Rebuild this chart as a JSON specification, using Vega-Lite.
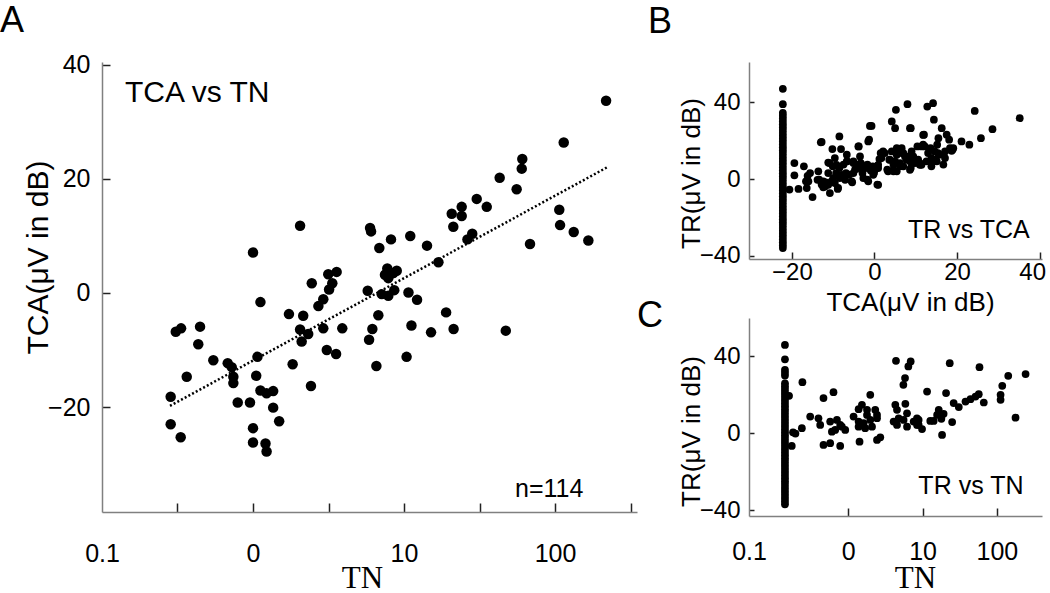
{
  "$schema": "https://vega.github.io/schema/vega-lite/v6.json",
  "padding": {"left": 0, "top": 2, "right": 0, "bottom": 0},
  "background": "white",
  "config": {
    "view": {"stroke": null},
    "axis": {"grid": false, "labelFont": "Liberation Sans", "titleFont": "Liberation Sans", "titleFontWeight": "normal", "labelColor": "black", "titleColor": "black", "domainColor": "#808080", "domainWidth": 1.5, "tickWidth": 1.5, "labelOverlap": false, "labelFlush": false},
    "title": {"font": "Liberation Sans", "fontWeight": "normal", "color": "black", "anchor": "start", "frame": "group", "baseline": "alphabetic"}
  },
  "datasets": {
    "a": [
      {"TN":1.00,"TCA":7.1},{"TN":2.05,"TCA":11.8},{"TN":2.45,"TCA":1.7},{"TN":3.58,"TCA":3.7},{"TN":3.15,"TCA":3.3},{"TN":3.35,"TCA":1.7},{"TN":3.19,"TCA":0.6},{"TN":1.12,"TCA":-1.6},{"TN":2.92,"TCA":-1.1},{"TN":2.71,"TCA":-2.3},{"TN":1.73,"TCA":-3.7},{"TN":2.15,"TCA":-4.0},{"TN":0.308,"TCA":-6.8},{"TN":0.334,"TCA":-6.2},{"TN":0.446,"TCA":-5.9},{"TN":2.05,"TCA":-6.4},{"TN":2.92,"TCA":-6.2},{"TN":3.90,"TCA":-6.2},{"TN":2.32,"TCA":-7.2},{"TN":2.10,"TCA":-8.5},{"TN":0.434,"TCA":-9.0},{"TN":3.08,"TCA":-10.0},{"TN":3.55,"TCA":-10.7},{"TN":0.546,"TCA":-11.8},{"TN":1.07,"TCA":-11.2},{"TN":0.680,"TCA":-12.3},{"TN":0.723,"TCA":-13.0},{"TN":1.83,"TCA":-12.5},{"TN":0.364,"TCA":-14.7},{"TN":0.741,"TCA":-14.7},{"TN":0.741,"TCA":-15.8},{"TN":1.05,"TCA":-14.5},{"TN":2.42,"TCA":-16.3},{"TN":1.12,"TCA":-17.1},{"TN":1.23,"TCA":-17.6},{"TN":1.36,"TCA":-17.2},{"TN":0.285,"TCA":-18.2},{"TN":0.792,"TCA":-19.2},{"TN":0.955,"TCA":-19.2},{"TN":1.36,"TCA":-20.1},{"TN":1.49,"TCA":-22.5},{"TN":0.285,"TCA":-23.0},{"TN":1.00,"TCA":-23.7},{"TN":0.332,"TCA":-25.3},{"TN":1.00,"TCA":-26.2},{"TN":1.21,"TCA":-26.4},{"TN":1.23,"TCA":-27.8},
      {"TN":217.8,"TCA":33.7},{"TN":114.2,"TCA":26.4},{"TN":60.7,"TCA":23.5},{"TN":60.2,"TCA":21.8},{"TN":43.0,"TCA":20.2},{"TN":55.7,"TCA":18.2},{"TN":30.3,"TCA":16.5},{"TN":35.3,"TCA":15.1},{"TN":24.1,"TCA":15.1},{"TN":20.7,"TCA":13.9},{"TN":24.1,"TCA":13.5},{"TN":21.2,"TCA":11.6},{"TN":106.7,"TCA":14.6},{"TN":108.0,"TCA":11.9},{"TN":133,"TCA":10.7},{"TN":166.2,"TCA":9.2},{"TN":68.3,"TCA":8.6},{"TN":28.3,"TCA":10.4},{"TN":26.3,"TCA":9.4},{"TN":5.96,"TCA":11.4},{"TN":6.05,"TCA":10.8},{"TN":8.20,"TCA":9.4},{"TN":11.0,"TCA":10.0},{"TN":6.86,"TCA":7.9},{"TN":14.2,"TCA":8.3},{"TN":16.9,"TCA":5.4},{"TN":7.75,"TCA":4.3},{"TN":8.95,"TCA":3.9},{"TN":7.48,"TCA":3.2},{"TN":7.87,"TCA":2.6},{"TN":8.50,"TCA":3.5},{"TN":5.75,"TCA":0.4},{"TN":7.12,"TCA":-0.2},{"TN":7.87,"TCA":-0.5},{"TN":8.62,"TCA":0.5},{"TN":10.7,"TCA":0.1},{"TN":12.2,"TCA":-1.2},{"TN":6.76,"TCA":-3.9},{"TN":19.0,"TCA":-3.4},{"TN":6.17,"TCA":-6.3},{"TN":5.87,"TCA":-8.2},{"TN":11.2,"TCA":-5.7},{"TN":15.1,"TCA":-6.9},{"TN":21.3,"TCA":-6.3},{"TN":47.2,"TCA":-6.6},{"TN":10.4,"TCA":-11.2},{"TN":6.56,"TCA":-12.8}
    ],
    "aline": [{"TN":0.282,"TCA":-19.8},{"TN":220,"TCA":22.0}],
    "b": [
      {"TCA":-22.2,"TR":47},{"TCA":-22.2,"TR":39},{"TCA":-22.2,"TR":34.5},{"TCA":-22.2,"TR":33},{"TCA":-22.2,"TR":31.5},{"TCA":-22.2,"TR":30},{"TCA":-22.2,"TR":28.5},{"TCA":-22.2,"TR":27},{"TCA":-22.2,"TR":25.5},{"TCA":-22.2,"TR":24},{"TCA":-22.2,"TR":22.5},{"TCA":-22.2,"TR":21},{"TCA":-22.2,"TR":19.5},{"TCA":-22.2,"TR":18},{"TCA":-22.2,"TR":16.5},{"TCA":-22.2,"TR":15},{"TCA":-22.2,"TR":13.5},{"TCA":-22.2,"TR":12},{"TCA":-22.2,"TR":10.5},{"TCA":-22.2,"TR":9},{"TCA":-22.2,"TR":7.5},{"TCA":-22.2,"TR":6},{"TCA":-22.2,"TR":4.5},{"TCA":-22.2,"TR":3},{"TCA":-22.2,"TR":1.5},{"TCA":-22.2,"TR":0},{"TCA":-22.2,"TR":-1.5},{"TCA":-22.2,"TR":-3},{"TCA":-22.2,"TR":-4.5},{"TCA":-22.2,"TR":-6},{"TCA":-22.2,"TR":-7.5},{"TCA":-22.2,"TR":-9},{"TCA":-22.2,"TR":-10.5},{"TCA":-22.2,"TR":-12},{"TCA":-22.2,"TR":-13.5},{"TCA":-22.2,"TR":-15},{"TCA":-22.2,"TR":-16.5},{"TCA":-22.2,"TR":-18},{"TCA":-22.2,"TR":-19.5},{"TCA":-22.2,"TR":-21},{"TCA":-22.2,"TR":-22.5},{"TCA":-22.2,"TR":-24},{"TCA":-22.2,"TR":-25.5},{"TCA":-22.2,"TR":-27},{"TCA":-22.2,"TR":-28.5},{"TCA":-22.2,"TR":-30},{"TCA":-22.2,"TR":-31.5},{"TCA":-22.2,"TR":-33},{"TCA":-22.2,"TR":-34.5},{"TCA":-22.2,"TR":-36},
      {"TCA":-19.4,"TR":8.3},{"TCA":-19.4,"TR":1.9},{"TCA":-20.6,"TR":-5.5},{"TCA":-18.4,"TR":-5.2},{"TCA":-17.1,"TR":6.6},{"TCA":-16.6,"TR":-1.2},{"TCA":-16.2,"TR":1.7},{"TCA":-15.6,"TR":3.1},{"TCA":-15.0,"TR":-9.4},{"TCA":-13.6,"TR":4.0},{"TCA":-13.4,"TR":-0.3},{"TCA":-13.0,"TR":19.1},{"TCA":-12.8,"TR":-2.9},{"TCA":-12.4,"TR":-4.3},{"TCA":-11.8,"TR":-1.7},{"TCA":-11.2,"TR":3.1},{"TCA":-10.9,"TR":8.3},{"TCA":-10.8,"TR":-7.3},{"TCA":-10.4,"TR":-1.2},{"TCA":-10.1,"TR":6.6},{"TCA":-9.3,"TR":3.1},{"TCA":-8.9,"TR":-5.2},{"TCA":-8.5,"TR":22.2},{"TCA":-8.1,"TR":15.6},{"TCA":-8.5,"TR":5.7},{"TCA":-8.4,"TR":0.5},{"TCA":-7.5,"TR":7.5},{"TCA":-6.9,"TR":3.1},{"TCA":-6.6,"TR":9.2},{"TCA":-6.1,"TR":2.3},{"TCA":-5.4,"TR":-1.7},{"TCA":-5.1,"TR":9.2},{"TCA":-4.7,"TR":4.9},{"TCA":-4.2,"TR":7.5},{"TCA":-3.8,"TR":17.0},{"TCA":-3.3,"TR":8.3},{"TCA":-2.9,"TR":3.1},{"TCA":-2.5,"TR":6.6},{"TCA":-2.1,"TR":5.7},{"TCA":-1.7,"TR":7.5},{"TCA":-1.7,"TR":-0.3},{"TCA":-1.5,"TR":19.6},{"TCA":-1.3,"TR":20.5},{"TCA":-1.1,"TR":27.7},{"TCA":-0.9,"TR":4.5},{"TCA":-0.4,"TR":6.6},{"TCA":-0.1,"TR":3.1},{"TCA":0.7,"TR":-2.9},{"TCA":0.9,"TR":5.7},{"TCA":1.2,"TR":10.4},{"TCA":1.5,"TR":13.5},{"TCA":2.1,"TR":14.4},{"TCA":3.1,"TR":4.9},{"TCA":3.6,"TR":10.1},{"TCA":4.2,"TR":30.0},{"TCA":4.6,"TR":4.0},{"TCA":5.0,"TR":26.5},{"TCA":5.2,"TR":36.1},{"TCA":5.4,"TR":12.7},{"TCA":5.8,"TR":15.3},{"TCA":6.2,"TR":6.6},{"TCA":6.6,"TR":16.1},{"TCA":7.0,"TR":13.5},{"TCA":7.4,"TR":11.8},{"TCA":7.8,"TR":10.1},{"TCA":8.0,"TR":39.0},{"TCA":8.4,"TR":10.1},{"TCA":8.8,"TR":26.5},{"TCA":9.0,"TR":14.4},{"TCA":9.4,"TR":11.8},{"TCA":9.8,"TR":8.3},{"TCA":10.4,"TR":17.0},{"TCA":11.2,"TR":8.0},{"TCA":12.0,"TR":23.1},{"TCA":12.2,"TR":17.0},{"TCA":12.8,"TR":37.8},{"TCA":13.0,"TR":13.5},{"TCA":13.6,"TR":16.1},{"TCA":13.8,"TR":10.9},{"TCA":14.2,"TR":39.5},{"TCA":14.4,"TR":30.9},{"TCA":14.9,"TR":10.1},{"TCA":15.2,"TR":17.9},{"TCA":15.5,"TR":21.3},{"TCA":15.7,"TR":12.7},{"TCA":16.3,"TR":26.5},{"TCA":16.7,"TR":7.5},{"TCA":17.1,"TR":14.4},{"TCA":17.5,"TR":23.1},{"TCA":18.1,"TR":20.5},{"TCA":18.3,"TR":16.1},{"TCA":18.9,"TR":15.3},{"TCA":21.1,"TR":19.6},{"TCA":23.0,"TR":17.9},{"TCA":24.3,"TR":35.5},{"TCA":25.8,"TR":21.3},{"TCA":28.6,"TR":26.0},{"TCA":35.2,"TR":31.7},{"TCA":11.8,"TR":17.9},{"TCA":10.6,"TR":10.1},{"TCA":8.8,"TR":5.7},{"TCA":7.0,"TR":6.6},{"TCA":4.6,"TR":7.5},{"TCA":-9.6,"TR":10.9},{"TCA":-6.7,"TR":12.7},{"TCA":-3.5,"TR":11.8},
      {"TCA":14.6,"TR":14.4},{"TCA":15.4,"TR":13.5},{"TCA":19.1,"TR":16.1},{"TCA":18.7,"TR":14.7},{"TCA":17.1,"TR":10.9},{"TCA":12.6,"TR":9.2},{"TCA":13.8,"TR":8.3},{"TCA":15.1,"TR":9.2},{"TCA":11.4,"TR":7.4},{"TCA":13.8,"TR":6.6},{"TCA":2.5,"TR":13.5},{"TCA":4.2,"TR":14.4},{"TCA":5.4,"TR":16.1},{"TCA":6.6,"TR":13.5},{"TCA":7.8,"TR":11.8},{"TCA":1.7,"TR":10.9},{"TCA":3.8,"TR":10.0},{"TCA":5.0,"TR":9.2},{"TCA":6.2,"TR":8.3},{"TCA":8.6,"TR":9.2},{"TCA":0.9,"TR":7.4},{"TCA":0.1,"TR":4.8},{"TCA":-11.2,"TR":8.6},{"TCA":-9.2,"TR":7.4},{"TCA":-6.7,"TR":9.2},{"TCA":-5.1,"TR":8.3},{"TCA":-3.5,"TR":7.4},{"TCA":-1.9,"TR":6.6},{"TCA":-16.0,"TR":-1.2},{"TCA":-16.4,"TR":-4.7},{"TCA":-13.8,"TR":-0.4},{"TCA":-12.4,"TR":-1.2},{"TCA":-12.0,"TR":-3.9},{"TCA":-11.2,"TR":-3.0},{"TCA":-10.0,"TR":0.5},{"TCA":-9.6,"TR":-2.1},{"TCA":-8.8,"TR":-4.6},{"TCA":-7.9,"TR":2.2},{"TCA":-7.1,"TR":-0.4},{"TCA":-5.5,"TR":-1.2},{"TCA":-5.1,"TR":3.1},{"TCA":-3.1,"TR":4.8},{"TCA":-2.7,"TR":0.5},{"TCA":-1.5,"TR":-1.2},{"TCA":-0.3,"TR":2.2},{"TCA":0.9,"TR":-3.0},{"TCA":3.3,"TR":4.0},{"TCA":4.6,"TR":4.8},{"TCA":5.4,"TR":4.0},{"TCA":8.6,"TR":4.8},{"TCA":11.0,"TR":7.4},{"TCA":-3.9,"TR":17.0},{"TCA":-10.2,"TR":15.6},{"TCA":-12.8,"TR":19.3},{"TCA":-0.7,"TR":27.7},{"TCA":8.6,"TR":26.5},{"TCA":11.8,"TR":23.0},{"TCA":11.4,"TR":17.0}
    ],
    "c": [
      {"TN":0.141,"TR":46},{"TN":0.141,"TR":38.5},{"TN":0.141,"TR":33},{"TN":0.141,"TR":31.5},{"TN":0.141,"TR":30},{"TN":0.141,"TR":26},{"TN":0.141,"TR":24.5},{"TN":0.141,"TR":23},{"TN":0.141,"TR":21.5},{"TN":0.141,"TR":20},{"TN":0.141,"TR":18.5},{"TN":0.141,"TR":17},{"TN":0.141,"TR":15.5},{"TN":0.141,"TR":14},{"TN":0.141,"TR":12.5},{"TN":0.141,"TR":11},{"TN":0.141,"TR":9.5},{"TN":0.141,"TR":8},{"TN":0.141,"TR":6.5},{"TN":0.141,"TR":5},{"TN":0.141,"TR":3.5},{"TN":0.141,"TR":2},{"TN":0.141,"TR":0.5},{"TN":0.141,"TR":-1},{"TN":0.141,"TR":-2.5},{"TN":0.141,"TR":-4},{"TN":0.141,"TR":-5.5},{"TN":0.141,"TR":-7},{"TN":0.141,"TR":-8.5},{"TN":0.141,"TR":-10},{"TN":0.141,"TR":-11.5},{"TN":0.141,"TR":-13},{"TN":0.141,"TR":-14.5},{"TN":0.141,"TR":-16},{"TN":0.141,"TR":-17.5},{"TN":0.141,"TR":-19},{"TN":0.141,"TR":-20.5},{"TN":0.141,"TR":-22},{"TN":0.141,"TR":-23.5},{"TN":0.141,"TR":-25},{"TN":0.141,"TR":-26.5},{"TN":0.141,"TR":-28},{"TN":0.141,"TR":-29.5},{"TN":0.141,"TR":-31},{"TN":0.141,"TR":-32.5},{"TN":0.141,"TR":-34},{"TN":0.141,"TR":-35.5},{"TN":0.141,"TR":-37},
      {"TN":0.160,"TR":19.5},{"TN":0.181,"TR":0.5},{"TN":0.174,"TR":-6.6},{"TN":0.242,"TR":26.6},{"TN":0.238,"TR":2.6},{"TN":0.195,"TR":-0.2},{"TN":0.308,"TR":8.7},{"TN":0.398,"TR":7.8},{"TN":0.42,"TR":4.3},{"TN":0.465,"TR":18.3},{"TN":0.465,"TR":-6.1},{"TN":0.572,"TR":-5.2},{"TN":0.634,"TR":21.4},{"TN":0.78,"TR":-6.6},{"TN":0.572,"TR":6.1},{"TN":0.705,"TR":6.9},{"TN":0.78,"TR":4.3},{"TN":0.668,"TR":1.7},{"TN":0.912,"TR":1.7},{"TN":0.822,"TR":3.4},{"TN":0.603,"TR":0.8},{"TN":1.18,"TR":8.7},{"TN":1.38,"TR":6.1},{"TN":1.61,"TR":5.2},{"TN":1.79,"TR":9.5},{"TN":1.98,"TR":6.9},{"TN":2.44,"TR":7.8},{"TN":1.38,"TR":3.4},{"TN":1.69,"TR":2.6},{"TN":2.09,"TR":3.4},{"TN":1.53,"TR":14.8},{"TN":1.38,"TR":12.5},{"TN":1.79,"TR":12.2},{"TN":2.31,"TR":12.2},{"TN":2.44,"TR":9.5},{"TN":1.98,"TR":20.0},{"TN":1.42,"TR":-4.4},{"TN":2.44,"TR":-3.5},{"TN":2.70,"TR":-2.1},{"TN":4.30,"TR":14.8},{"TN":5.87,"TR":15.3},{"TN":4.53,"TR":12.2},{"TN":6.18,"TR":10.4},{"TN":4.08,"TR":6.1},{"TN":4.77,"TR":7.8},{"TN":4.53,"TR":4.3},{"TN":5.56,"TR":6.9},{"TN":6.18,"TR":3.4},{"TN":7.59,"TR":6.1},{"TN":8.85,"TR":4.3},{"TN":8.41,"TR":7.8},{"TN":4.39,"TR":37.7},{"TN":5.52,"TR":25.2},{"TN":5.81,"TR":28.7},{"TN":6.44,"TR":34.8},{"TN":6.92,"TR":37.4},{"TN":8.85,"TR":6.9},{"TN":8.43,"TR":4.3},{"TN":9.84,"TR":2.2},{"TN":11.5,"TR":21.7},{"TN":12.7,"TR":6.4},{"TN":14.1,"TR":6.4},{"TN":16.5,"TR":12.2},{"TN":15.7,"TR":9.5},{"TN":19.2,"TR":10.1},{"TN":17.9,"TR":7.5},{"TN":18.3,"TR":-0.9},{"TN":20.7,"TR":20.9},{"TN":23.2,"TR":36.5},{"TN":25.0,"TR":5.8},{"TN":26.2,"TR":15.7},{"TN":30.7,"TR":13.6},{"TN":37.8,"TR":16.5},{"TN":44.1,"TR":17.7},{"TN":51.5,"TR":19.1},{"TN":57.0,"TR":20.3},{"TN":66.6,"TR":16.0},{"TN":58.3,"TR":34.4},{"TN":112,"TR":20.0},{"TN":112,"TR":17.4},{"TN":118,"TR":24.7},{"TN":142,"TR":29.9},{"TN":178,"TR":8.1},{"TN":243,"TR":30.8}
    ]
  },
  "spacing": 112,
  "bounds": "flush",
  "hconcat": [
    {
      "width": 535,
      "height": 450,
      "title": {"text": "A", "fontSize": 36, "dx": -102, "offset": 13},
      "layer": [
        {
          "data": {"name": "a"},
          "mark": {"type": "circle", "color": "black", "opacity": 1, "size": 110},
          "encoding": {
            "x": {"field": "TN", "type": "quantitative", "scale": {"type": "log", "domain": [0.1, 349], "nice": false},
              "axis": {"values": [0.1, 0.3162, 1, 3.162, 10, 31.62, 100, 316.2],
                "labelExpr": "datum.value < 0.2 ? '0.1' : (datum.value > 0.5 && datum.value < 2) ? '0' : (datum.value > 5 && datum.value < 20) ? '10' : (datum.value > 50 && datum.value < 200) ? '100' : ''",
                "tickSize": -9, "labelPadding": 38, "labelFontSize": 25,
                "tickColor": {"condition": {"test": "datum.value < 0.2", "value": "transparent"}, "value": "#222"},
                "title": "TN", "titleFont": "Liberation Serif", "titleFontSize": 31, "titleX": 260, "titleY": 75, "titleAlign": "center", "titleBaseline": "alphabetic"}},
            "y": {"field": "TCA", "type": "quantitative", "scale": {"domain": [-38.4, 40.5], "nice": false, "zero": false},
              "axis": {"values": [-20, 0, 20, 40], "tickSize": -8, "labelPadding": 20, "labelFontSize": 25, "tickColor": "#222",
                "title": "TCA(μV in dB)", "titleFontSize": 30, "titleX": -55, "titleY": 195, "titleAngle": -90, "titleAlign": "center", "titleBaseline": "alphabetic"}}
          }
        },
        {
          "data": {"name": "aline"},
          "mark": {"type": "line", "color": "black", "strokeWidth": 2.5, "strokeDash": [2, 2.2]},
          "encoding": {"x": {"field": "TN", "type": "quantitative"}, "y": {"field": "TCA", "type": "quantitative"}}
        },
        {
          "data": {"values": [{"TN": 0.142, "TCA": 33.5, "label": "TCA vs TN"}]},
          "mark": {"type": "text", "align": "left", "baseline": "alphabetic", "font": "Liberation Sans", "fontSize": 30, "color": "black"},
          "encoding": {"x": {"field": "TN", "type": "quantitative"}, "y": {"field": "TCA", "type": "quantitative"}, "text": {"field": "label"}}
        },
        {
          "data": {"values": [{"TN": 54.3, "TCA": -35.8, "label": "n=114"}]},
          "mark": {"type": "text", "align": "left", "baseline": "alphabetic", "font": "Liberation Sans", "fontSize": 25, "color": "black"},
          "encoding": {"x": {"field": "TN", "type": "quantitative"}, "y": {"field": "TCA", "type": "quantitative"}, "text": {"field": "label"}}
        }
      ]
    },
    {
      "spacing": 59,
      "bounds": "flush",
      "vconcat": [
        {
          "width": 293,
          "height": 197,
          "title": {"text": "B", "fontSize": 36, "dx": -101, "offset": 21},
          "layer": [
            {
              "data": {"name": "b"},
              "mark": {"type": "circle", "color": "black", "opacity": 1, "size": 60},
              "encoding": {
                "x": {"field": "TCA", "type": "quantitative", "scale": {"domain": [-30.4, 40.6], "nice": false, "zero": false},
                  "axis": {"values": [-20, 0, 20, 40], "tickSize": -7, "labelPadding": 8, "labelFontSize": 24, "tickColor": "#222",
                    "labelFlush": 5, "labelFlushOffset": 6,
                    "title": "TCA(μV in dB)", "titleFontSize": 26, "titleX": 161, "titleY": 51, "titleAlign": "center", "titleBaseline": "alphabetic"}},
                "y": {"field": "TR", "type": "quantitative", "scale": {"domain": [-41.7, 61], "nice": false, "zero": false},
                  "axis": {"values": [-40, -20, 0, 20, 40, 60], "labelExpr": "(datum.value == 0 || datum.value == 40 || datum.value == -40) ? datum.label : ''",
                    "tickSize": -5, "labelPadding": 14, "labelFontSize": 24, "tickColor": "#222",
                    "title": "TR(μV in dB)", "titleFontSize": 26, "titleX": -50, "titleY": 111, "titleAngle": -90, "titleAlign": "center", "titleBaseline": "alphabetic"}}
              }
            },
            {
              "data": {"values": [{"TCA": 8.1, "TR": -30.5, "label": "TR vs TCA"}]},
              "mark": {"type": "text", "align": "left", "baseline": "alphabetic", "font": "Liberation Sans", "fontSize": 25, "color": "black"},
              "encoding": {"x": {"field": "TCA", "type": "quantitative"}, "y": {"field": "TR", "type": "quantitative"}, "text": {"field": "label"}}
            }
          ]
        },
        {
          "width": 293,
          "height": 198,
          "title": {"text": "C", "fontSize": 36, "dx": -112, "offset": -17},
          "layer": [
            {
              "data": {"name": "c"},
              "mark": {"type": "circle", "color": "black", "opacity": 1, "size": 60},
              "encoding": {
                "x": {"field": "TN", "type": "quantitative", "scale": {"type": "log", "domain": [0.0463, 404], "nice": false},
                  "axis": {"values": [0.0463, 1, 10, 100],
                    "labelExpr": "datum.value < 0.5 ? '0.1' : datum.value < 5 ? '0' : datum.value < 50 ? '10' : '100'",
                    "tickSize": -8, "labelPadding": 31, "labelFontSize": 25,
                    "tickColor": {"condition": {"test": "datum.value < 0.5", "value": "transparent"}, "value": "#222"},
                    "title": "TN", "titleFont": "Liberation Serif", "titleFontSize": 31, "titleX": 166, "titleY": 71, "titleAlign": "center", "titleBaseline": "alphabetic"}},
                "y": {"field": "TR", "type": "quantitative", "scale": {"domain": [-43.1, 60], "nice": false, "zero": false},
                  "axis": {"values": [-40, -20, 0, 20, 40, 60], "labelExpr": "(datum.value == 0 || datum.value == 40 || datum.value == -40) ? datum.label : ''",
                    "tickSize": -5, "labelPadding": 14, "labelFontSize": 24, "tickColor": "#222",
                    "title": "TR(μV in dB)", "titleFontSize": 26, "titleX": -50, "titleY": 113, "titleAngle": -90, "titleAlign": "center", "titleBaseline": "alphabetic"}}
              }
            },
            {
              "data": {"values": [{"TN": 8.78, "TR": -31.7, "label": "TR vs TN"}]},
              "mark": {"type": "text", "align": "left", "baseline": "alphabetic", "font": "Liberation Sans", "fontSize": 25, "color": "black"},
              "encoding": {"x": {"field": "TN", "type": "quantitative"}, "y": {"field": "TR", "type": "quantitative"}, "text": {"field": "label"}}
            }
          ]
        }
      ]
    }
  ]
}
